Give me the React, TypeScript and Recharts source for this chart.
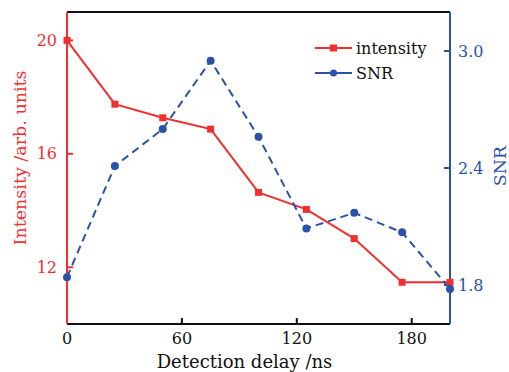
import { LineChart, Line, XAxis, YAxis, Legend, ReferenceLine, Label } from "recharts";

// detection delay (ns) and the two measured series
const delays = [0, 25, 50, 75, 100, 125, 150, 175, 200];
const intensity = [20.0, 17.75, 17.27, 16.87, 14.64, 14.04, 13.01, 11.47, 11.47];
const snr = [1.84, 2.41, 2.6, 2.95, 2.56, 2.09, 2.17, 2.07, 1.78];

const xTicks = [0, 60, 120, 180];
const leftTicks = [12, 16, 20];
const rightTicks = [1.8, 2.4, 3.0];
const legendOrder = ["intensity", "SNR"];

const RED = "#f0302f";
const BLUE = "#2b52a6";
const INK = "#111";
const FONT = "'DejaVu Serif', serif";

const data = delays.map((t, i) => ({ t, intensity: intensity[i], snr: snr[i] }));

const SquareDot = (props: any) => {
  const { cx, cy } = props;
  if (cx == null || cy == null) return null;
  return <rect x={cx - 3.5} y={cy - 3.5} width={7} height={7} fill={RED} />;
};

const RoundDot = (props: any) => {
  const { cx, cy } = props;
  if (cx == null || cy == null) return null;
  return <circle cx={cx} cy={cy} r={4} fill={BLUE} />;
};

const LegendBox = ({ payload }: any) => {
  const items = [...(payload ?? [])].sort(
    (a: any, b: any) => legendOrder.indexOf(a.value) - legendOrder.indexOf(b.value)
  );
  return (
    <div style={{ fontFamily: FONT, fontSize: 16, color: INK }}>
      {items.map((p: any) => (
        <div key={p.value} style={{ display: "flex", alignItems: "center", height: 25 }}>
          <svg width={38} height={12}>
            <line x1={0} x2={37} y1={6} y2={6} stroke={p.color} strokeWidth={2} />
            {p.value === "intensity" ? (
              <rect x={15} y={2.5} width={7} height={7} fill={p.color} />
            ) : (
              <circle cx={18.5} cy={6} r={3.5} fill={p.color} />
            )}
          </svg>
          <span style={{ marginLeft: 3 }}>{p.value}</span>
        </div>
      ))}
    </div>
  );
};

export default function App() {
  return (
    <div style={{ position: "absolute", left: 0, top: 0, background: "#fff" }}>
      <LineChart width={509} height={372} data={data} margin={{ top: 12, right: 0, bottom: 0, left: 0 }}>
        <XAxis
          dataKey="t"
          type="number"
          domain={[0, 200]}
          ticks={xTicks}
          interval={0}
          height={48}
          axisLine={{ stroke: INK, strokeWidth: 2 }}
          tickLine={{ stroke: INK, strokeWidth: 2 }}
          tickSize={-6}
          tickMargin={15}
          tick={{ fill: INK, fontSize: 16, fontFamily: FONT }}
        >
          <Label
            value="Detection delay /ns"
            position="center"
            dx={-14}
            dy={14}
            fill={INK}
            style={{ fontSize: 18, fontFamily: FONT }}
          />
        </XAxis>
        <YAxis
          yAxisId="left"
          orientation="left"
          width={67}
          domain={[10, 21]}
          ticks={leftTicks}
          interval={0}
          axisLine={{ stroke: RED, strokeWidth: 2 }}
          tickLine={{ stroke: RED, strokeWidth: 2 }}
          tickSize={-6}
          tickMargin={16}
          tick={{ fill: RED, fontSize: 16, fontFamily: FONT }}
        >
          <Label
            value="Intensity /arb. units"
            position="center"
            angle={-90}
            dx={-14}
            dy={-10}
            fill={RED}
            style={{ fontSize: 17.5, fontFamily: FONT }}
          />
        </YAxis>
        <YAxis
          yAxisId="right"
          orientation="right"
          width={59}
          domain={[1.6, 3.2]}
          ticks={rightTicks}
          interval={0}
          tickFormatter={(v: number) => v.toFixed(1)}
          axisLine={{ stroke: BLUE, strokeWidth: 2 }}
          tickLine={{ stroke: BLUE, strokeWidth: 2 }}
          tickSize={-6}
          tickMargin={14}
          tick={{ fill: BLUE, fontSize: 16, fontFamily: FONT }}
        >
          <Label
            value="SNR"
            position="center"
            angle={-90}
            dx={20}
            dy={-2}
            fill={BLUE}
            style={{ fontSize: 17.5, fontFamily: FONT }}
          />
        </YAxis>
        <ReferenceLine yAxisId="left" y={21} stroke={INK} strokeWidth={2} />
        <Legend
          layout="horizontal"
          verticalAlign="middle"
          align="center"
          content={<LegendBox />}
          wrapperStyle={{ top: 35.5, left: 315, width: 130 }}
        />
        <Line
          yAxisId="left"
          dataKey="intensity"
          name="intensity"
          stroke={RED}
          strokeWidth={2}
          dot={<SquareDot />}
          activeDot={false}
          isAnimationActive={false}
        />
        <Line
          yAxisId="right"
          dataKey="snr"
          name="SNR"
          stroke={BLUE}
          strokeWidth={2}
          strokeDasharray="8 5"
          dot={<RoundDot />}
          activeDot={false}
          isAnimationActive={false}
        />
      </LineChart>
    </div>
  );
}
